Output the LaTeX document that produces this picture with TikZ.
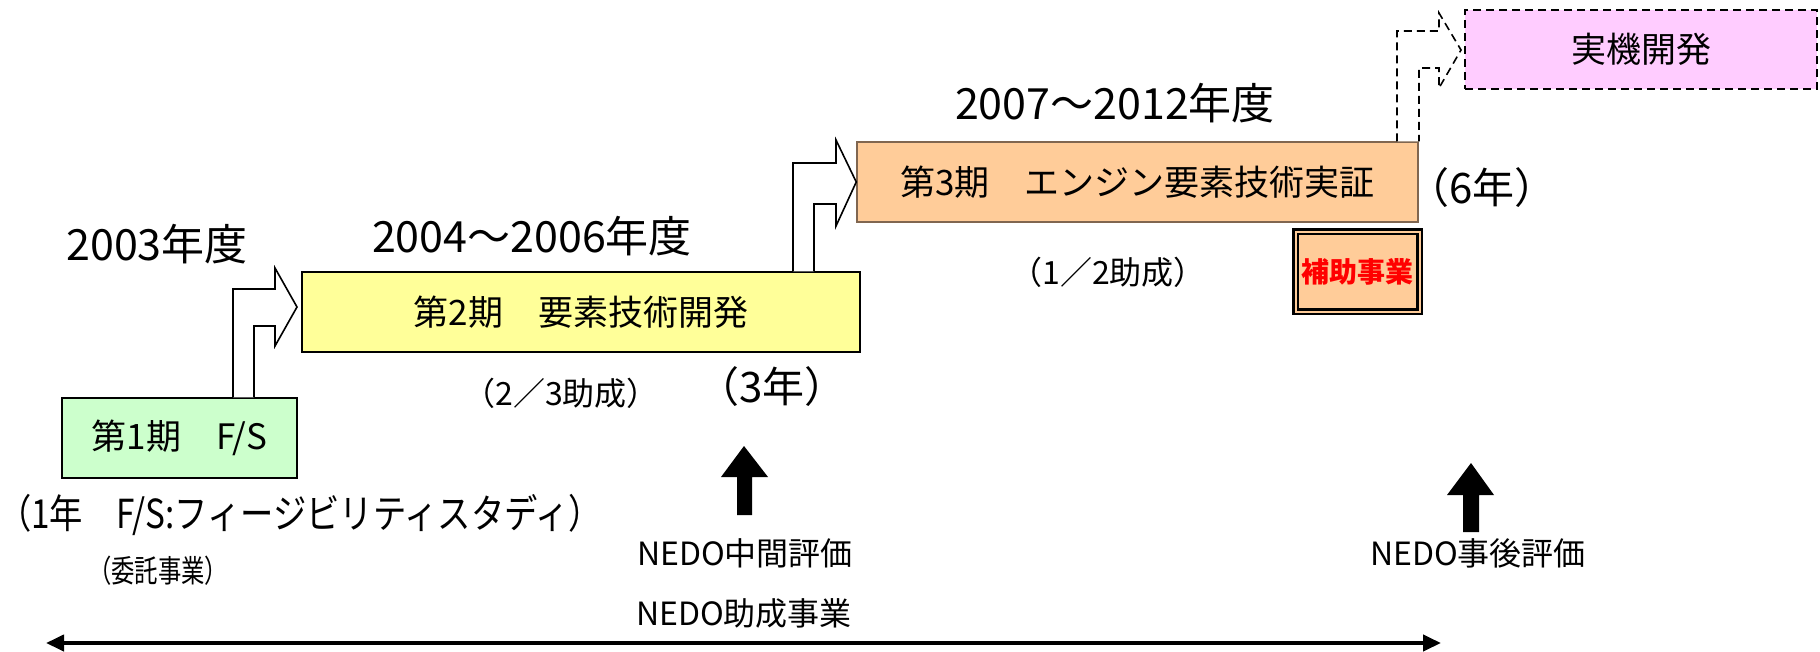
\documentclass[tikz,border=0pt]{standalone}
\usepackage{fontspec}
\usepackage{graphicx}
\setmainfont{Noto Sans CJK JP}
\usetikzlibrary{arrows.meta,calc}
\definecolor{cgreen}{HTML}{CCFFCC}
\definecolor{cyellow}{HTML}{FFFF99}
\definecolor{cpeach}{HTML}{FFCC99}
\definecolor{cpink}{HTML}{FFCCFF}
\definecolor{cbrown}{HTML}{806650}
\definecolor{cred}{HTML}{FF0000}
\begin{document}
\begin{tikzpicture}[x=1pt,y=-1pt,
  phase/.style={draw=black,line width=1.5pt,inner sep=0pt,font=\fontsize{35}{42}\selectfont},
  lbl/.style={inner sep=0pt},
  big/.style={lbl,font=\fontsize{43}{50}\selectfont},
  mid/.style={lbl,font=\fontsize{42}{50}\selectfont},
  small/.style={lbl,font=\fontsize{32}{38}\selectfont},
  evtext/.style={lbl,font=\fontsize{32}{38}\selectfont},
  bendarrow/.style={draw=black,fill=white,line width=1.6pt,line join=miter},
  dashline/.style={dash pattern=on 8pt off 5pt},
  evalarrow/.style={fill=black},
  span/.style={line width=4pt,{Triangle[length=18pt,width=16pt]}-{Triangle[length=18pt,width=16pt]}}
]
\useasboundingbox (0,0) rectangle (1820,651);

% bent block arrows (drawn first, boxes on top)
\coordinate (t1) at (297,307);
\coordinate (t3) at (1461,50);
\node[phase,fill=cgreen,minimum width=235pt,minimum height=80pt] (p1) at (179.5,438) {第1期　F/S};
\node[phase,fill=cyellow,minimum width=558pt,minimum height=80pt] (p2) at (581,312) {第2期　要素技術開発};
\node[phase,fill=cpeach,draw=cbrown,minimum width=561pt,minimum height=80pt] (p3) at (1137.5,182) {第3期　エンジン要素技術実証};
\node[phase,fill=cpink,dashline,minimum width=352pt,minimum height=79pt] (p4) at (1641,49.5) {実機開発};

\draw[bendarrow] (233,0 |- p1.north) -- (233,289) -- (275,289) -- (275,268) -- (t1)
  -- (275,346) -- (275,326) -- (254,326) -- (254,0 |- p1.north);
\draw[bendarrow] (793,0 |- p2.north) -- (793,163) -- (836,163) -- (836,140) -- (p3.west)
  -- (836,226) -- (836,204) -- (814,204) -- (814,0 |- p2.north);
\draw[bendarrow,dashline] (1397,0 |- p3.north) -- (1397,31) -- (1439,31) -- (1439,13) -- (t3)
  -- (1439,88) -- (1439,68) -- (1419,68) -- (1419,0 |- p3.north);

% subsidy badge
\node[draw=black,double=cpeach,double distance=2pt,line width=2.5pt,fill=cpeach,
  minimum width=124pt,minimum height=80pt,inner sep=0pt,text=cred,
  font=\fontsize{28}{34}\selectfont\bfseries] (sub) at (1357.5,271.5) {補助事業};

% year labels
\node[big] (y1) at (157,244) {2003年度};
\node[big] (y2) at (532,236) {2004～2006年度};
\node[big] (y3) at (1115,103) {2007～2012年度};

% notes
\node[small] (r2) at (561,393) {（2／3助成）};
\node[mid] (d2) at (772,387) {（3年）};
\node[small] (r3) at (1108,272) {（1／2助成）};
\node[mid] (d3) at (1482,188) {（6年）};
\node[lbl,font=\fontsize{40}{46}\selectfont] (d1) at (300,515) {\resizebox{604pt}{\height}{（1年　F/S:フィージビリティスタディ）}};
\node[lbl,font=\fontsize{31}{36}\selectfont] (itaku) at (158,571) {\resizebox{140pt}{\height}{（委託事業）}};

% evaluations
\node[evtext] (ev1) at (745,553) {NEDO中間評価};
\node[evtext] (ev2) at (1478,553) {NEDO事後評価};
\node[evtext] (jo) at (744,613) {NEDO助成事業};

\fill[evalarrow] (737,515) -- (737,477) -- (721,477) -- (744,446) -- (768,477) -- (752,477) -- (752,515) -- cycle;
\fill[evalarrow] (1463,532) -- (1463,495) -- (1447,495) -- (1471,463) -- (1494,495) -- (1479,495) -- (1479,532) -- cycle;

% span arrow
\coordinate (sL) at (46,643);
\coordinate (sR) at (1441,643);
\draw[span] (sL) -- (sR);
\end{tikzpicture}
\end{document}
